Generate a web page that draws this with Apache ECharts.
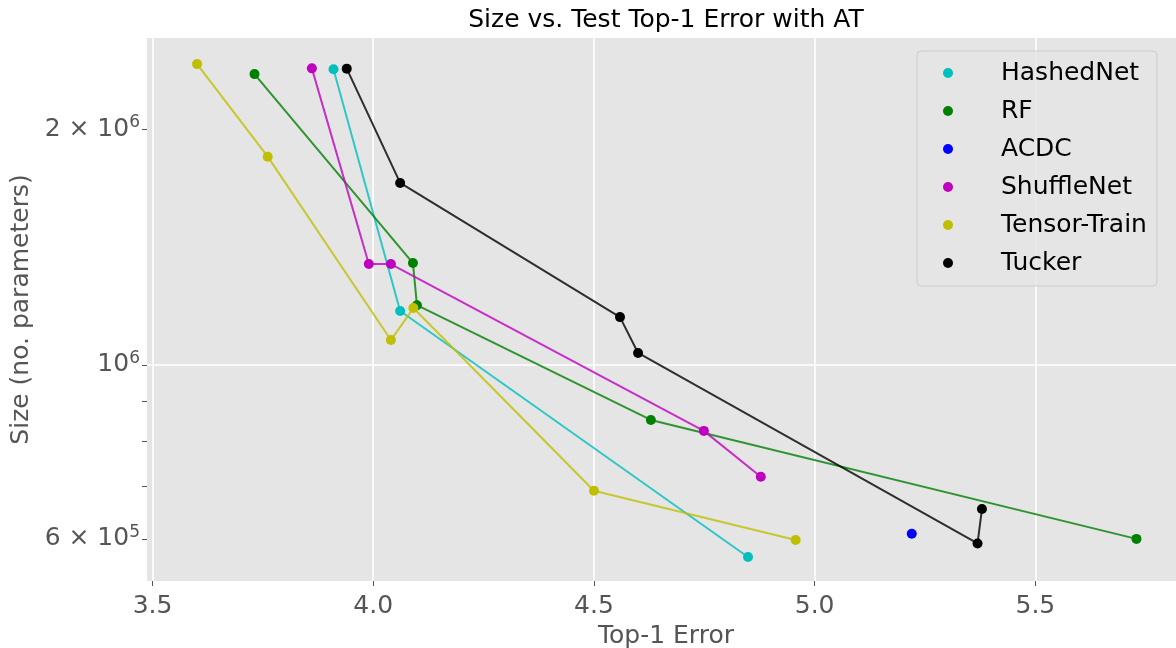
<!DOCTYPE html>
<html>
<head>
	<meta charset="utf-8">
	<title>Size vs. Test Top-1 Error with AT</title>
	<style>
		* { margin: 0; padding: 0; }
		body { background: #fff; overflow: hidden; }
		#chart { width: 1176px; height: 648px; }
	</style>
	<script src="https://cdn.jsdelivr.net/npm/echarts@6/dist/echarts.min.js"></script>
</head>
<body>
<div id="chart"></div>
<script>
	// values (x = top-1 error, y = no. parameters)
	var hashedX = [3.910, 4.061, 4.849];
	var hashedY = [2.384e6, 1.172e6, 5.69e5];

	var rfX = [3.731, 4.090, 4.099, 4.629, 5.729];
	var rfY = [2.350e6, 1.349e6, 1.192e6, 8.51e5, 6.00e5];

	var acdcX = [5.220];
	var acdcY = [6.09e5];

	var shuffleX = [3.861, 3.990, 4.040, 4.749, 4.878];
	var shuffleY = [2.390e6, 1.345e6, 1.345e6, 8.24e5, 7.20e5];

	var ttX = [3.601, 3.761, 4.040, 4.091, 4.500, 4.957];
	var ttY = [2.420e6, 1.844e6, 1.076e6, 1.182e6, 6.91e5, 5.98e5];

	var tuckerX = [3.940, 4.061, 4.559, 4.600, 5.369, 5.379];
	var tuckerY = [2.388e6, 1.707e6, 1.151e6, 1.036e6, 5.92e5, 6.55e5];

	var xTicks = [3.5, 4.0, 4.5, 5.0, 5.5];
	var yLabels = [6e5, 1e6, 2e6];
	var yMinor = [6e5, 7e5, 8e5, 9e5, 1e6, 2e6];

	var FONT = 'DejaVu Sans';

	function zip(xs, ys) {
		var out = [];
		for (var i = 0; i < xs.length; i++) out.push([xs[i], ys[i]]);
		return out;
	}

	// "m x 10^e" with a raised exponent, like matplotlib's log labels
	function fmtY(v) {
		var e = Math.floor(Math.log10(v) + 1e-9);
		var m = Math.round(v / Math.pow(10, e));
		if (m === 1) return '{n|10}{s|' + e + '}';
		return '{n|' + m + ' × 10}{s|' + e + '}';
	}

	function mkSeries(name, xs, ys, color) {
		return {
			name: name,
			type: 'line',
			data: zip(xs, ys),
			symbol: 'circle',
			symbolSize: 10,
			showSymbol: true,
			itemStyle: { color: color },
			lineStyle: { color: color, width: 2, opacity: 0.8 },
			emphasis: { disabled: true }
		};
	}

	var chart = echarts.init(document.getElementById('chart'), null, { renderer: 'canvas' });

	var option = {
		animation: false,
		backgroundColor: '#ffffff',
		textStyle: { fontFamily: FONT },
		title: {
			text: 'Size vs. Test Top-1 Error with AT',
			left: 666,
			top: 8,
			padding: 0,
			textAlign: 'center',
			textStyle: { fontFamily: FONT, fontSize: 25, fontWeight: 'normal', color: '#000' }
		},
		// the axes run a little past the right edge of the picture
		grid: {
			left: 147, width: 1038, top: 38, bottom: 67,
			outerBoundsMode: 'none',
			containLabel: false,
			show: true, backgroundColor: '#e5e5e5', borderWidth: 0
		},
		legend: {
			orient: 'vertical',
			left: 917,
			top: 51,
			padding: [7, 10, 8, 26],
			itemGap: 8,
			itemWidth: 20,
			itemHeight: 10,
			icon: 'circle',
			backgroundColor: 'rgba(229,229,229,0.8)',
			borderColor: '#cccccc',
			borderWidth: 1,
			borderRadius: 4,
			textStyle: { fontFamily: FONT, fontSize: 25, lineHeight: 30, color: '#000', padding: [0, 0, 0, 38] },
			data: ['HashedNet', 'RF', 'ACDC', 'ShuffleNet', 'Tensor-Train', 'Tucker']
		},
		xAxis: {
			type: 'value',
			min: 3.4875,
			max: 5.839,
			name: 'Top-1 Error',
			nameLocation: 'middle',
			nameGap: 43,
			nameTextStyle: { fontFamily: FONT, fontSize: 25, color: '#555' },
			axisLine: { show: false },
			axisTick: { show: true, length: 5, customValues: xTicks, lineStyle: { color: '#555', width: 1 } },
			axisLabel: {
				customValues: xTicks, margin: 13,
				fontFamily: FONT, fontSize: 25, color: '#555',
				formatter: function (v) { return v.toFixed(1); }
			},
			splitLine: { show: true, lineStyle: { color: '#ffffff', width: 1.6 } }
		},
		yAxis: [{
			type: 'log',
			logBase: 10,
			min: 5.302e5,
			max: 2.613e6,
			name: 'Size (no. parameters)',
			nameLocation: 'middle',
			nameGap: 94,
			nameTextStyle: { fontFamily: FONT, fontSize: 25, color: '#555' },
			axisLine: { show: false },
			axisTick: { show: true, length: 5, customValues: yMinor, lineStyle: { color: '#555', width: 1 } },
			axisLabel: {
				customValues: yLabels, margin: 7,
				formatter: fmtY,
				rich: {
					n: { fontFamily: FONT, fontSize: 25, color: '#555', lineHeight: 30 },
					s: { fontFamily: FONT, fontSize: 17, color: '#555', verticalAlign: 'top', lineHeight: 30 }
				}
			},
			splitLine: { show: false }
		}, {
			// only used for the major grid line at 10^6
			type: 'log',
			logBase: 10,
			min: 5.302e5,
			max: 2.613e6,
			position: 'right',
			axisLine: { show: false },
			axisTick: { show: false },
			axisLabel: { show: false },
			splitLine: { show: true, showMinLine: false, showMaxLine: false, lineStyle: { color: '#ffffff', width: 1.6 } }
		}],
		series: [
			mkSeries('HashedNet', hashedX, hashedY, '#00bfbf'),
			mkSeries('RF', rfX, rfY, '#008000'),
			mkSeries('ACDC', acdcX, acdcY, '#0000ff'),
			mkSeries('ShuffleNet', shuffleX, shuffleY, '#bf00bf'),
			mkSeries('Tensor-Train', ttX, ttY, '#bfbf00'),
			mkSeries('Tucker', tuckerX, tuckerY, '#000000')
		]
	};

	chart.setOption(option);
</script>
</body>
</html>
